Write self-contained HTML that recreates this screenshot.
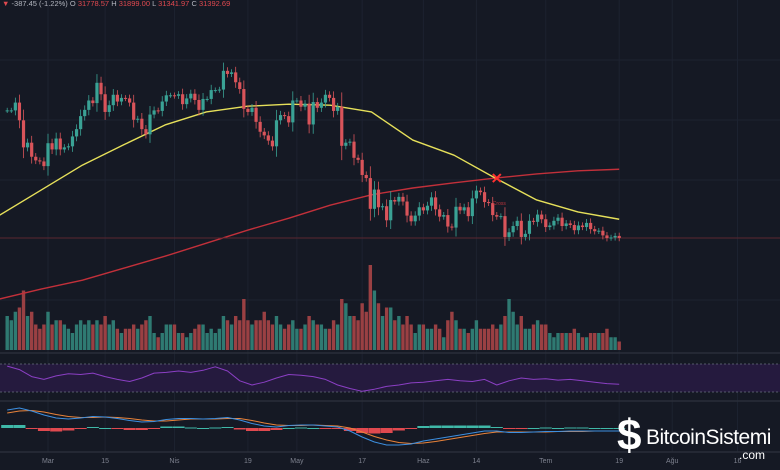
<!DOCTYPE html>
<html><head><meta charset="utf-8">
<style>
html,body{margin:0;padding:0;background:#151924;}
#wrap{position:relative;width:780px;height:470px;overflow:hidden;background:#151924;font-family:"Liberation Sans",sans-serif;}
#hdr{position:absolute;left:2px;top:-1px;font-size:7.5px;color:#b2b5be;white-space:nowrap;}
#hdr .r{color:#e0494f;}
#logo{position:absolute;left:617px;top:418px;color:#fff;font-family:"Liberation Sans",sans-serif;}
</style></head>
<body>
<div id="wrap">
<svg id="svg" width="780" height="470" style="position:absolute;left:0;top:0"></svg>
<div id="hdr"><span class="r">▼</span> -387.45 (-1.22%) O <span class="r">31778.57</span> H <span class="r">31899.00</span> L <span class="r">31341.97</span> C <span class="r">31392.69</span></div>
<div id="logo">
<span style="position:absolute;left:0;top:-4px;font-size:44px;font-weight:bold;line-height:44px;">$</span>
<span style="position:absolute;left:29px;top:9px;font-size:21px;letter-spacing:-0.5px;line-height:21px;">BitcoinSistemi</span>
<span style="position:absolute;left:122px;top:31px;font-size:12px;line-height:12px;">.com</span>
</div>
</div>
<script>
const closes=[55900,55900,57400,54000,48800,49700,47000,46300,46100,45200,
49600,48400,50500,48400,48800,49000,50900,52300,54800,56000,57800,57300,61200,59000,55600,56900,58900,57600,58300,58200,57400,54100,54300,52300,51300,55100,55900,55800,57600,58800,58800,
58700,59000,57100,58200,59100,57900,56000,58100,58100,59800,59800,59900,63500,62900,63200,61300,60000,56200,55600,56400,53700,51800,51100,50100,49000,54000,55000,54800,53600,57800,
57800,56600,57200,53200,57500,56400,57400,58900,58300,55800,56600,49100,49700,49900,46800,46400,43500,42900,37000,40700,37300,37500,34800,38700,38400,39300,38400,35700,34600,35700,37300,
36700,37600,39200,36900,35500,35800,33600,33400,37400,36700,37300,35600,39000,40500,40200,38300,38100,35800,35500,35600,31600,32500,33700,34700,31600,32200,34700,34500,35900,35000,
33500,33800,34700,35300,33700,34200,33900,32900,33800,33500,34300,33100,32700,32800,31900,31400,31500,31800,31400];
const volumes=[40,35,45,50,70,40,45,30,25,30,
45,30,35,35,30,25,20,30,35,30,35,30,35,30,40,30,35,25,20,25,25,30,25,30,35,40,20,15,20,30,30,
30,20,20,15,20,25,30,30,20,25,20,25,40,35,30,40,35,60,35,30,35,35,45,35,30,40,30,25,30,35,
25,25,30,40,35,30,30,25,25,35,30,60,55,40,40,35,55,45,100,70,55,40,50,50,35,40,30,40,30,20,30,
30,25,25,30,25,15,35,45,35,25,25,20,25,35,25,25,25,30,25,30,40,60,45,30,40,25,25,30,35,30,
30,20,15,20,20,20,20,25,20,15,15,20,20,20,20,25,15,15,10];
const ma50=[35800,40600,45400,49300,53100,55600,56700,57100,56900,55600,50200,47300,42900,38700,36400,35000];
const ma200=[19700,21600,23300,25600,27900,30400,32900,35200,37700,39700,41000,42000,42900,43700,44300,44600];
const rsi=[67,62,52,48,53,56,55,57,52,48,45,50,57,58,60,58,61,66,60,46,40,44,50,55,54,52,48,40,35,31,34,38,40,43,44,46,48,46,45,48,40,46,50,48,49,47,48,46,44,42,41];
const macd=[3.6,4.0,3.4,2.6,2.0,1.8,2.0,2.3,2.2,1.9,1.5,1.2,1.3,1.7,1.9,1.9,1.8,1.9,2.1,1.6,0.9,0.4,0.2,0.5,0.6,0.6,0.4,0.2,-0.6,-1.8,-2.8,-3.4,-3.4,-3.2,-2.6,-2.2,-1.8,-1.4,-1.0,-0.6,-0.6,-0.9,-0.9,-0.8,-0.7,-0.7,-0.6,-0.6,-0.6,-0.6,-0.6];
const signal=[3.0,3.4,3.5,3.2,2.7,2.3,2.1,2.1,2.2,2.1,1.9,1.6,1.4,1.4,1.6,1.8,1.8,1.8,1.9,1.9,1.5,1.0,0.6,0.5,0.5,0.6,0.5,0.4,0.0,-0.8,-1.7,-2.4,-2.9,-3.1,-3.0,-2.7,-2.3,-1.9,-1.5,-1.1,-0.8,-0.8,-0.8,-0.8,-0.8,-0.7,-0.7,-0.7,-0.6,-0.6,-0.6];
const dateLabels=["Mar","15","Nis","19","May","17","Haz","14","Tem","19","Ağu","16"];
const dateIdx=[10,24,41,59,71,87,102,115,132,150,163,179];

const NS="http://www.w3.org/2000/svg";
const svg=document.getElementById('svg');
const X=i=>7.2+i*4.08;
const Y=p=>238-(p-31400)/192;
const VY=v=>350-v*0.85;
const RY=v=>364+(70-v)*0.7;
const MY=v=>428-v*5;
function mk(tag,attrs){const e=document.createElementNS(NS,tag);for(const k in attrs)e.setAttribute(k,attrs[k]);svg.appendChild(e);return e;}

dateIdx.forEach(i=>{const g=mk('line',{x1:X(i),x2:X(i),y1:0,y2:452,stroke:'#1d2230','stroke-width':1});

});
[60,120,180,300].forEach(y=>{const g=mk('line',{x1:0,x2:780,y1:y,y2:y,stroke:'#1d2230','stroke-width':1});

});
[353,401,452].forEach(y=>{const s=mk('line',{x1:0,x2:780,y1:y,y2:y,stroke:'#2a2e39','stroke-width':1.5});

});

closes.forEach((c,i)=>{const o=i?closes[i-1]:c;const up=c>=o;
const r=mk('rect',{x:X(i)-1.7,y:VY(volumes[i]),width:3.4,height:volumes[i]*0.85,fill:up?'#2f7a72':'#9a4043'});

});

function line(arr,step,off,fy,color,w,name){const pts=arr.map((v,k)=>X(off+k*step)+','+fy(v)).join(' ');
const p=mk('polyline',{points:pts,fill:'none',stroke:color,'stroke-width':w,'stroke-linejoin':'round'});

return p;}
line(ma200,10.12,-1.8,Y,'#c2303a',1.4,'ma200-line');
line(ma50,10.12,-1.8,Y,'#e6e05a',1.4,'ma50-line');

const lp=mk('line',{x1:0,x2:780,y1:Y(closes[closes.length-1]),y2:Y(closes[closes.length-1]),stroke:'#5a2631','stroke-width':1});



closes.forEach((c,i)=>{const o=i?closes[i-1]:c;const up=c>=o;const col=up?'#3aa295':'#d9545a';
const w=Math.abs(c-o)*0.3+500;const hi=Math.max(o,c)+w,lo=Math.min(o,c)-w;
const wk=mk('line',{x1:X(i),x2:X(i),y1:Y(hi),y2:Y(lo),stroke:col,'stroke-width':0.8});


const b=mk('rect',{x:X(i)-1.6,y:Y(Math.max(o,c)),width:3.2,height:Math.max(1,Math.abs(c-o)/192),fill:col});

});

const cx=X(120),cy=Y(ma200[12]);
const cm=mk('path',{d:`M${cx-4},${cy-4}L${cx+4},${cy+4}M${cx+4},${cy-4}L${cx-4},${cy+4}`,stroke:'#ff3030','stroke-width':2});


const ct=mk('text',{x:cx-4,y:cy+27,fill:'#b8343c','font-size':5,'font-family':'Liberation Sans'});ct.textContent='Cross';



const rb=mk('rect',{x:0,y:RY(70),width:780,height:RY(30)-RY(70),fill:'#251a3e'});


[70,30].forEach(v=>{const l=mk('line',{x1:0,x2:780,y1:RY(v),y2:RY(v),stroke:'#6a6f80','stroke-width':0.8,'stroke-dasharray':'2,2'});

});
line(rsi,3,0,RY,'#8b3fc4',1,'rsi-line');

macd.forEach((m,k)=>{const h=m-signal[k];const r=mk('rect',{x:X(k*3)-6,y:Math.min(MY(h),428),width:12,height:Math.max(1,Math.abs(h)*5),fill:h>=0?'#3fb8a8':'#e0494f'});

});
line(signal,3,0,MY,'#e9833a',1,'macd-signal-line');
line(macd,3,0,MY,'#3d8fe0',1,'macd-line');

dateLabels.forEach((t,k)=>{const e=mk('text',{x:X(dateIdx[k]),y:463,fill:'#7d818e','font-size':7,'text-anchor':'middle','font-family':'Liberation Sans'});e.textContent=t;

});
</script>
</body></html>
